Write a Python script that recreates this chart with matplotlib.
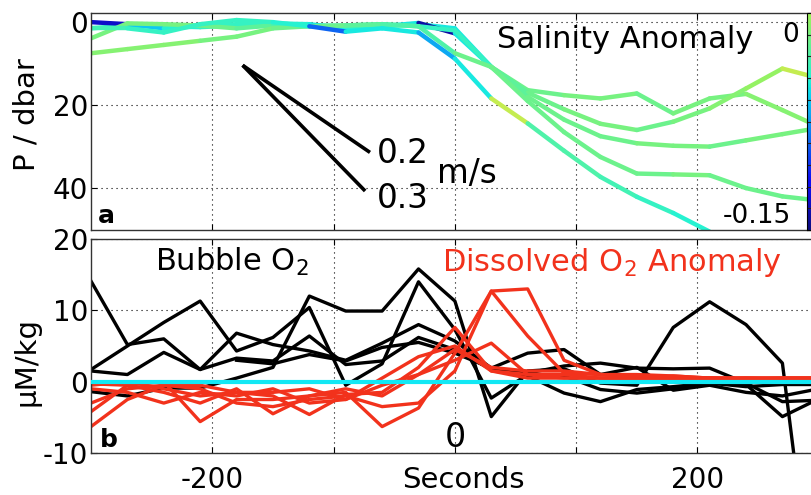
import numpy as np
import matplotlib
matplotlib.use("Agg")
import matplotlib.pyplot as plt
from matplotlib.collections import LineCollection
from matplotlib.colors import ListedColormap, Normalize
from matplotlib.cm import ScalarMappable

plt.rcParams['font.family'] = ['DejaVu Sans']
plt.rcParams['axes.unicode_minus'] = False
plt.rcParams['mathtext.fontset'] = 'dejavusans'

# time axis (seconds), sampled every 30 s
secs = [-300, -270, -240, -210, -180, -150, -120, -90, -60, -30, 0,
        30, 60, 90, 120, 150, 180, 210, 240, 270, 300]
nan = np.nan

# ---- panel a: float pressure traces and salinity anomaly per segment ----
p_traces = [
    [1.5, 0.8, 1.0, 1.2, 0.8, 0.5, 0.8, 1.0, 1.0, 0.5, 1.5, 10.8, 16.4, 17.6, 18.4, 17.2, 22.0, 18.4, 17.3, 21.2, 25.2],
    [0.0, 0.5, 1.5, 1.0, 0.5, 0.3, 0.5, 1.5, 1.0, 0.2, 2.7, 10.8, 17.0, 21.0, 24.5, 26.0, 24.0, 20.8, 16.0, 11.2, 13.5],
    [3.9, 0.3, 0.5, 0.8, 1.5, 0.8, 1.0, 0.8, 0.5, 1.0, 2.0, 10.8, 18.0, 23.5, 27.5, 29.2, 29.8, 30.0, 28.5, 27.0, 25.5],
    [7.5, 6.5, 5.5, 4.5, 3.5, 1.5, 1.0, 0.8, 0.5, 1.0, 7.5, 10.8, 19.0, 26.5, 32.5, 36.5, 36.7, 36.9, 40.0, 42.0, 43.0],
    [1.5, 1.5, 2.5, 0.5, -0.5, 0.0, 1.0, 2.3, 1.5, 2.5, 8.8, 18.4, 24.4, 31.0, 37.3, 42.1, 46.0, 50.5, nan, nan, nan],
]
s_traces = [
    [-0.04, -0.04, -0.045, -0.04, -0.035, -0.03, -0.04, -0.04, -0.04, -0.05, -0.05, -0.02, -0.02, -0.015, -0.015, -0.02, -0.015, -0.015, -0.01, -0.01],
    [-0.13, -0.06, -0.045, -0.04, -0.04, -0.045, -0.05, -0.045, -0.05, -0.14, -0.05, -0.025, -0.02, -0.015, -0.015, -0.02, -0.015, -0.01, -0.005, 0.01],
    [-0.015, -0.015, -0.015, -0.02, -0.025, -0.03, -0.035, -0.03, -0.03, -0.04, -0.04, -0.025, -0.02, -0.02, -0.02, -0.015, -0.015, -0.02, -0.015, -0.015],
    [-0.01, -0.01, -0.01, -0.015, -0.015, -0.02, -0.02, -0.025, -0.03, -0.03, -0.02, -0.02, -0.02, -0.02, -0.02, -0.02, -0.015, -0.02, -0.02, -0.02],
    [-0.035, -0.04, -0.04, -0.04, -0.04, -0.045, -0.09, -0.05, -0.05, -0.07, -0.05, 0.005, -0.03, -0.03, -0.035, -0.04, -0.045, nan, nan, nan],
]
speeds = [0.2, 0.3]
speed_end = [-70, -74]
speed_start = (-175, 10.4)

# ---- panel b: bubble O2 (black) and dissolved O2 anomaly (red) ----
bubble = [
    [14.1, 5.2, 6.0, 1.7, 6.8, 5.2, 4.3, 3.0, 5.4, 8.0, 5.7, 1.9, 1.2, 2.2, 2.6, 1.9, 1.8, 1.9, -0.2, -2.8, -2.6],
    [1.7, 5.0, 8.3, 11.3, 4.3, 6.2, 10.4, -0.5, 2.5, 14.0, 7.3, -2.3, 1.0, 0.8, -1.1, -1.6, -1.0, -0.2, -0.7, -0.4, -0.4],
    [1.5, 1.0, 4.1, 1.7, 3.3, 2.9, 6.4, 2.4, 2.9, 6.2, 4.5, 1.7, 0.8, -1.6, -2.8, -1.1, -0.7, -0.2, -0.4, -4.9, -2.4],
    [-1.4, -2.0, -0.9, -0.9, 0.5, 2.0, 12.0, 9.9, 9.9, 15.8, 11.3, -4.9, 1.5, 1.8, -0.2, -0.5, 7.6, 11.2, 8.0, 2.6, -38.0],
    [nan, nan, nan, nan, 3.0, 2.5, 3.8, 2.9, 4.8, 5.5, 4.0, 1.9, 4.0, 4.5, 1.0, 2.0, -1.2, -0.5, -1.5, -2.0, -1.0],
]
dissolved = [
    [-6.3, -2.5, -0.5, -0.5, -1.5, -2.0, -4.6, -1.8, -1.5, 2.0, 7.6, 1.5, 0.5, 0.5, 0.5, 0.5, 0.8, 0.5, 0.3, 0.5, 0.5],
    [-4.2, -0.5, 0.0, -5.6, -2.5, -2.5, -2.0, -1.5, -6.3, -3.7, 4.0, 12.7, 13.0, 3.0, 1.0, 0.8, 0.5, 0.5, 0.5, 0.5, 0.5],
    [-3.0, -1.0, -0.5, -1.0, -3.0, -3.5, -2.5, -2.0, -3.5, -3.0, 1.5, 12.7, 6.4, 1.2, 1.0, 0.5, 0.5, 0.3, 0.5, 0.5, 0.5],
    [-0.3, -0.5, -1.5, -3.0, -1.0, -4.5, -2.0, -1.0, -2.0, 1.0, 3.0, 5.4, 1.0, 0.5, 0.5, 0.3, 0.5, 0.5, 0.3, 0.3, 0.3],
    [-1.0, -1.5, -3.0, -1.5, -2.0, -1.0, -3.0, -2.5, 0.5, 3.5, 5.0, 1.5, 1.0, 1.0, 0.5, 0.5, 0.5, 0.5, 0.5, 0.3, 0.5],
    [-0.5, 0.0, -1.0, -2.0, -1.5, -1.5, -1.0, -2.5, -0.5, 1.0, 4.5, 2.0, 1.5, 1.5, 1.0, 1.0, 0.8, 0.5, 0.5, 0.5, 0.5],
]

W, H = 812, 495
fig = plt.figure(figsize=(W / 100, H / 100), dpi=100)

left = 91 / W
width = 1 - left
ax1 = fig.add_axes([left, 1 - 230 / H, width, 217 / H])
ax2 = fig.add_axes([left, 1 - 453 / H, width, 214 / H])

xlim = (-300, 294.4)
grid_kw = dict(color='k', linestyle=(0, (1, 3.5)), linewidth=0.8)

for ax in (ax1, ax2):
    ax.set_xlim(*xlim)
    ax.set_xticks([-200, -100, 0, 100, 200])
    ax.grid(True, **grid_kw)
    ax.set_axisbelow(True)
    ax.tick_params(direction='in', length=4, width=0.8, labelsize=20, pad=2,
                   top=True, right=False)
    ax.spines['right'].set_visible(False)
    for sp in ('left', 'top', 'bottom'):
        ax.spines[sp].set_linewidth(1.0)
        ax.spines[sp].set_color('#333333')

# colour map: lower part of jet, -0.15 (dark blue) to 0 (light green),
# slightly muted like the printed figure
jet = plt.get_cmap('jet')
cols = jet(np.linspace(0.0, 0.55, 256))
cols[:, :3] = cols[:, :3] * 0.9 + 0.05
cmap = ListedColormap(cols)
cmap.set_over('#c4ec50')
norm = Normalize(vmin=-0.15, vmax=0.0)

x = np.array(secs, dtype=float)
for ptr, sal in zip(p_traces, s_traces):
    p = np.array(ptr, dtype=float)
    segs, vals = [], []
    for i in range(len(x) - 1):
        if np.isnan(p[i]) or np.isnan(p[i + 1]) or np.isnan(sal[i]):
            continue
        segs.append([(x[i], p[i]), (x[i + 1], p[i + 1])])
        vals.append(sal[i])
    lc = LineCollection(segs, cmap=cmap, norm=norm, linewidths=3.2,
                        capstyle='round')
    lc.set_array(np.array(vals))
    ax1.add_collection(lc)

for v, xe in zip(speeds, speed_end):
    x0, p0 = speed_start
    ax1.plot([x0, xe], [p0, p0 + v * (xe - x0)], color='k', lw=2.6,
             solid_capstyle='butt')

ax1.set_ylim(50.1, -2.2)
ax1.set_yticks([0, 20, 40])
ax1.tick_params(labelbottom=False)

ax1.text(35, 6.3, 'Salinity Anomaly', fontsize=22, va='baseline')
ax1.text(-64, 34.0, '0.2', fontsize=23.5, va='baseline')
ax1.text(-64, 44.8, '0.3', fontsize=23.5, va='baseline')
ax1.text(-15, 38.8, 'm/s', fontsize=23.5, va='baseline')
ax1.text(-294, 48.4, 'a', fontsize=18, fontweight='bold', va='baseline')
ax1.text(270, 4.8, '0', fontsize=19, va='baseline')
ax1.text(221, 48.4, '-0.15', fontsize=19, va='baseline')

cax = fig.add_axes([807 / W, 1 - 230 / H, 0.03, 217 / H])
cb = fig.colorbar(ScalarMappable(norm=norm, cmap=cmap), cax=cax)
cb.outline.set_linewidth(0.8)
cax.yaxis.set_ticks_position('left')
cax.set_yticks([-0.15 + 0.015 * k for k in range(11)])
cax.set_yticklabels([])
cax.tick_params(direction='in', length=3, width=0.8, colors='#222222')

# panel b
for b in bubble:
    ax2.plot(secs, b, color='k', lw=2.4)
for d in dissolved:
    ax2.plot(secs, d, color='#f2321c', lw=2.4)
ax2.axhline(0, color='#12e8f4', lw=3.0, zorder=5)

ax2.set_ylim(-10, 20)
ax2.set_yticks([-10, 0, 10, 20])
ax2.set_xticklabels(['-200', '', '', '', '200'])
ax2.tick_params(axis='x', pad=9)

ax2.text(-247.5, 15.5, 'Bubble O$_2$', fontsize=22, va='baseline')
ax2.text(-11, 15.5, 'Dissolved O$_2$ Anomaly', fontsize=22, va='baseline',
         color='#f2321c')
ax2.text(-293, -9.15, 'b', fontsize=18, fontweight='bold', va='baseline')
ax2.text(0, -9.2, '0', fontsize=24, ha='center', va='baseline')

fig.text(463 / W, 1 - 488 / H, 'Seconds', fontsize=21, ha='center',
         va='baseline')
fig.text(27 / W, 1 - 115 / H, 'P / dbar', fontsize=21, rotation=90,
         ha='center', va='center')
fig.text(27 / W, 1 - 362 / H, 'µM/kg', fontsize=21, rotation=90,
         ha='center', va='center')

fig.savefig('out.png', dpi=100)
